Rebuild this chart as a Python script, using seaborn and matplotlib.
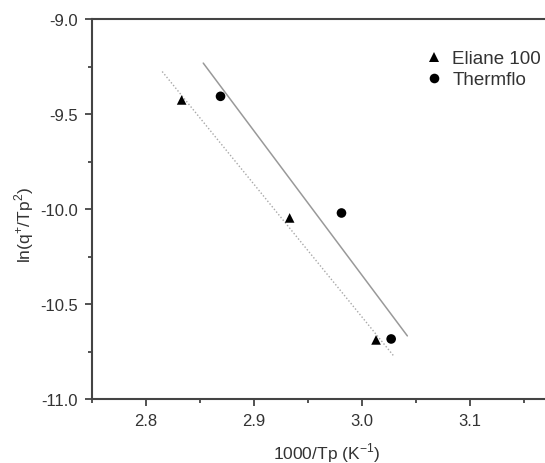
import numpy as np
import pandas as pd
import matplotlib
matplotlib.use("Agg")
import matplotlib.pyplot as plt
import matplotlib.ticker as mticker
import seaborn as sns

# ------- DATA -------

eliane_x = [2.833, 2.933, 3.013]
eliane_y = [-9.426, -10.047, -10.689]
thermflo_x = [2.869, 2.981, 3.027]
thermflo_y = [-9.407, -10.021, -10.684]

# x extent of the fitted lines
eliane_fit_x = [2.815, 3.030]
thermflo_fit_x = [2.853, 3.042]

x_ticks = [2.8, 2.9, 3.0, 3.1]
y_ticks = [-11.0, -10.5, -10.0, -9.5, -9.0]

# ------- PLOT -------

sns.set_style("ticks")
plt.rcParams['font.family'] = ['Liberation Sans', 'DejaVu Sans']

fig = plt.figure(figsize=(5.45, 4.64), dpi=100)
# axes runs past the right edge (the original is cropped there)
ax = fig.add_axes([92 / 545, 64 / 464, 486 / 545, 380 / 464])

pts = pd.DataFrame({
    'x': eliane_x + thermflo_x,
    'y': eliane_y + thermflo_y,
    'sample': ['Eliane 100'] * 3 + ['Thermflo'] * 3,
})

# linear fits
def fit_line(xs, ys, xr):
    k, b = np.polyfit(xs, ys, 1)
    xr = np.array(xr)
    return pd.DataFrame({'x': xr, 'y': k * xr + b})

ef = fit_line(eliane_x, eliane_y, eliane_fit_x)
tf = fit_line(thermflo_x, thermflo_y, thermflo_fit_x)
sns.lineplot(data=ef, x='x', y='y', ax=ax, color='#a8a8a8', lw=1.0,
             linestyle=(0, (1, 1.5)), legend=False)
sns.lineplot(data=tf, x='x', y='y', ax=ax, color='#999999', lw=1.1, legend=False)

sns.scatterplot(data=pts, x='x', y='y', hue='sample', style='sample',
                markers={'Eliane 100': '^', 'Thermflo': 'o'},
                palette={'Eliane 100': 'black', 'Thermflo': 'black'},
                s=48, linewidth=0, ax=ax, zorder=3)

ax.set_xlim(2.75, 3.2)
ax.set_ylim(-11.0, -9.0)
ax.set_xticks(x_ticks)
ax.set_xticklabels([f"{t:.1f}" for t in x_ticks])
ax.set_yticks(y_ticks)
ax.set_yticklabels([f"{t:.1f}" for t in y_ticks])
ax.xaxis.set_minor_locator(mticker.MultipleLocator(0.05))
ax.yaxis.set_minor_locator(mticker.MultipleLocator(0.25))

for side in ['left', 'bottom', 'top']:
    ax.spines[side].set_color('#444444')
    ax.spines[side].set_linewidth(1.5)
ax.spines['right'].set_visible(False)
ax.tick_params(which='major', direction='out', length=5, width=1.3, pad=5,
               color='#444444', labelsize=12, labelcolor='#333333')
ax.tick_params(which='minor', direction='out', length=3, width=1.3, color='#444444')

ax.set_xlabel(r'1000/Tp (K$^{\mathregular{-1}}$)', fontsize=12.5, color='#333333')
ax.set_ylabel(r'ln(q$^{\mathregular{+}}$/Tp$^{\mathregular{2}}$)', fontsize=12.5, color='#333333')
ax.xaxis.set_label_coords((327 - 92) / 486, -41 / 380)
ax.yaxis.set_label_coords(-56 / 486, (400 - 225) / 380)

handles, labels = ax.get_legend_handles_labels()
leg = ax.legend(handles, labels, loc='upper left', frameon=False,
                bbox_to_anchor=(411 / 545, 1 - 38 / 464), bbox_transform=fig.transFigure,
                fontsize=13.5, handlelength=1.0, handletextpad=0.5, labelspacing=0.2,
                borderpad=0.2)
for t in leg.get_texts():
    t.set_color('#333333')

plt.savefig("out.png", dpi=100)
plt.close()
